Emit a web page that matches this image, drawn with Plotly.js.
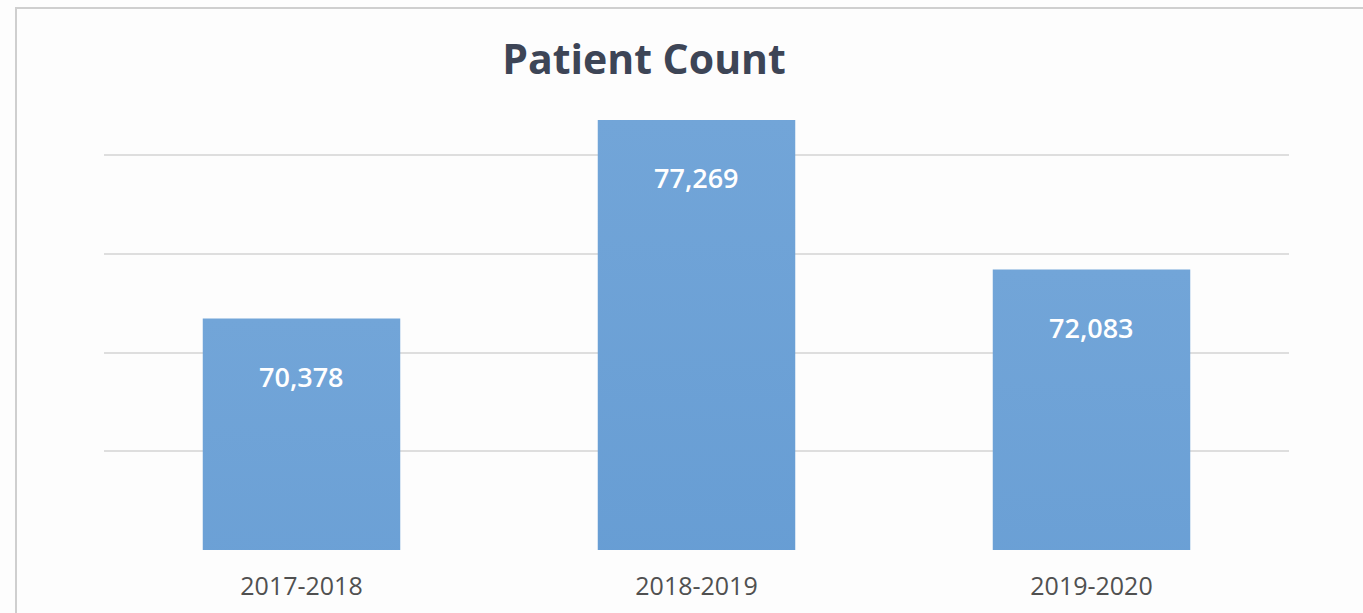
<!DOCTYPE html>
<html>
<head>
<meta charset="utf-8">
<script src="https://cdn.plot.ly/plotly-3.0.1.min.js"></script>
<style>
  html, body { margin: 0; padding: 0; background: #ffffff; }
  #wrap { position: relative; width: 1363px; height: 613px; overflow: hidden; }
  #chart { width: 1363px; height: 613px; }
  #frame { position: absolute; left: 15px; top: 7px; right: -5px; bottom: -5px;
           border-top: 2px solid #cfcfcf; border-left: 2px solid #cfcfcf;
           pointer-events: none; }
</style>
</head>
<body>
<div id="wrap">
  <div id="chart"></div>
  <div id="frame"></div>
</div>
<script>
const categories = ["2017-2018", "2018-2019", "2019-2020"];
const patientCounts = [70378, 77269, 72083];
const valueLabels = ["70,378", "77,269", "72,083"];

const trace = {
  type: "bar",
  x: categories,
  y: patientCounts,
  marker: { color: "#5a96d1", line: { width: 0 } },
  hoverinfo: "x+y"
};

const annotations = categories.map((c, i) => ({
  x: c, y: patientCounts[i], xref: "x", yref: "y",
  text: valueLabels[i], showarrow: false,
  yanchor: "middle", yshift: -58,
  font: { family: "Open Sans", size: 27, color: "#ffffff", weight: 600 }
}));

const layout = {
  width: 1363, height: 613,
  paper_bgcolor: "#fdfdfd", plot_bgcolor: "#fdfdfd",
  margin: { l: 104, r: 74, t: 100, b: 63 },
  bargap: 0.5,
  showlegend: false,
  title: {
    text: "<b>Patient Count</b>",
    font: { family: "Open Sans", size: 41, color: "#3d4556" },
    x: 0.4725, xanchor: "center", xref: "container",
    y: 0.903, yanchor: "middle", yref: "container"
  },
  xaxis: {
    type: "category",
    showgrid: false, zeroline: false, showline: false, ticks: "",
    tickfont: { family: "Open Sans", size: 25, color: "#505050" },
    ticklabelstandoff: 19
  },
  yaxis: {
    range: [62352, 77961],
    tick0: 62352, dtick: 3425,
    showticklabels: false, ticks: "",
    showgrid: true, gridcolor: "#dedede", gridwidth: 2,
    zeroline: false, showline: false
  },
  annotations: annotations
};

Plotly.newPlot("chart", [trace], layout, { displayModeBar: false, staticPlot: true }).then(() => {
  const svg = document.querySelector("#chart svg.main-svg");
  const ns = "http://www.w3.org/2000/svg";
  let defs = svg.querySelector("defs");
  if (!defs) { defs = document.createElementNS(ns, "defs"); svg.insertBefore(defs, svg.firstChild); }
  const g = document.createElementNS(ns, "linearGradient");
  g.setAttribute("id", "barGrad");
  g.setAttribute("x1", "0"); g.setAttribute("y1", "0");
  g.setAttribute("x2", "0"); g.setAttribute("y2", "1");
  [["0", "#72a5d8"], ["1", "#3b7ec3"]].forEach(([o, c]) => {
    const s = document.createElementNS(ns, "stop");
    s.setAttribute("offset", o); s.setAttribute("stop-color", c);
    g.appendChild(s);
  });
  defs.appendChild(g);
  document.querySelectorAll("#chart .bars .point path").forEach(p => {
    p.style.setProperty("fill", "url(#barGrad)", "important");
    p.style.setProperty("fill-opacity", "1");
  });
});
</script>
</body>
</html>
